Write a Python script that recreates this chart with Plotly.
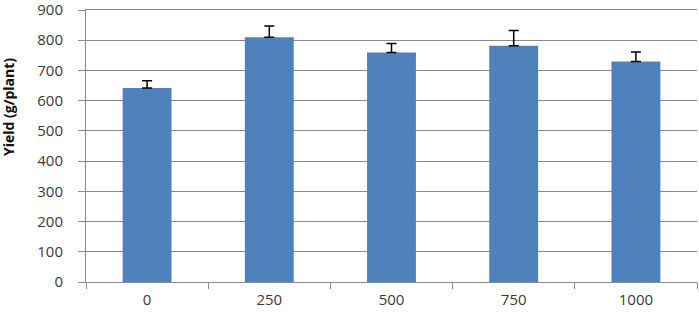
import plotly.graph_objects as go

categories = ["0", "250", "500", "750", "1000"]
yield_values = [642, 810, 759, 782, 730]
error_plus = [24, 37, 30, 50, 31]
y_ticks = [0, 100, 200, 300, 400, 500, 600, 700, 800, 900]

fig = go.Figure()
fig.add_trace(go.Bar(
    x=categories,
    y=yield_values,
    marker=dict(color="#4F81BD", line=dict(width=0)),
    error_y=dict(type="data", array=error_plus, arrayminus=[0]*len(error_plus),
                 symmetric=False, color="#000000", thickness=1.5, width=5),
))

fig.update_layout(
    width=699, height=312,
    margin=dict(l=86, r=2, t=10, b=30),
    paper_bgcolor="white", plot_bgcolor="white",
    bargap=0.6,
    showlegend=False,
    font=dict(family="Open Sans, Noto Sans, sans-serif", size=15, color="#3a3a3a"),
    annotations=[dict(
        text="<b>Yield (g/plant)</b>", textangle=-90, xref="paper", yref="paper",
        x=(9 - 86) / 611, y=(282 - 107) / 272, xanchor="center", yanchor="middle",
        showarrow=False, font=dict(size=14, color="#111111"),
    )],
)
fig.update_yaxes(
    range=[0, 900], tickvals=y_ticks, showgrid=True, gridcolor="#8A8A8A", gridwidth=1,
    showline=True, linecolor="#8A8A8A", linewidth=1, ticks="outside", ticklen=7,
    tickcolor="#8A8A8A", zeroline=False, automargin=False, ticklabelstandoff=12,
    ticklabeloverflow="allow",
)
fig.update_xaxes(
    showline=True, mirror=True, linecolor="#8A8A8A", linewidth=1, ticks="outside", ticklen=6,
    tickcolor="#8A8A8A", tickson="boundaries", showgrid=False, automargin=False,
    ticklabelstandoff=4,
)

fig.write_html(
    "out.html",
    config={"displayModeBar": False},
    post_script="document.body.style.margin='0';document.body.style.padding='0';",
)
